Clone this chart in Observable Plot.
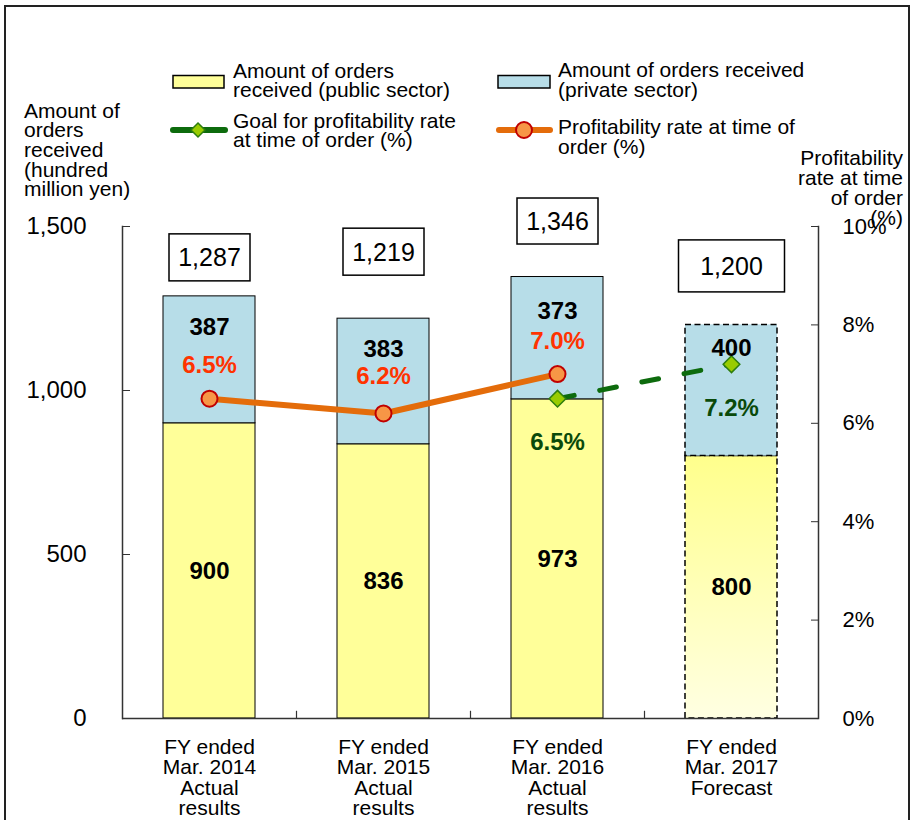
<!DOCTYPE html>
<html>
<head>
<meta charset="utf-8">
<script src="https://cdn.jsdelivr.net/npm/d3@7"></script>
<script src="https://cdn.jsdelivr.net/npm/@observablehq/plot@0.6"></script>
<style>
  html, body { margin: 0; padding: 0; background: #fff; }
  body { width: 914px; height: 820px; position: relative; overflow: hidden;
         font-family: "Liberation Sans", Arial, sans-serif; }
  #frame { position: absolute; left: 4px; top: 5px; width: 906px; height: 900px;
           border: 2px solid #222; box-sizing: border-box; }
  #chart { position: absolute; left: 0; top: 0; }
  #overlay { position: absolute; left: 0; top: 0; pointer-events: none; }
  #overlay text { font-family: "Liberation Sans", Arial, sans-serif; font-size: 21px; fill: #000; }
</style>
</head>
<body>
<div id="frame"></div>
<div id="chart"></div>
<svg id="overlay" width="914" height="240">
  <!-- legend -->
  <rect x="173" y="75.5" width="51" height="12.5" fill="#FFFF99" stroke="#000" stroke-width="1.5"/>
  <text x="233" y="78">Amount of orders</text>
  <text x="233" y="97">received (public sector)</text>
  <rect x="498" y="75.5" width="52" height="12.5" fill="#B7DDE8" stroke="#000" stroke-width="1.5"/>
  <text x="558" y="77">Amount of orders received</text>
  <text x="558" y="97">(private sector)</text>
  <line x1="173" x2="225" y1="130" y2="130" stroke="#0D6B0D" stroke-width="6" stroke-linecap="round"/>
  <path d="M198,123 L205,130 L198,137 L191,130Z" fill="#99CC00" stroke="#2E7D0E" stroke-width="1.5"/>
  <text x="233" y="128">Goal for profitability rate</text>
  <text x="233" y="147">at time of order (%)</text>
  <line x1="499" x2="550" y1="130" y2="130" stroke="#E46C0A" stroke-width="6" stroke-linecap="round"/>
  <circle cx="524" cy="130" r="8" fill="#F79646" stroke="#C00000" stroke-width="2"/>
  <text x="558" y="134">Profitability rate at time of</text>
  <text x="558" y="154">order (%)</text>
  <!-- left axis title -->
  <text x="24" y="118">Amount of</text>
  <text x="24" y="137">orders</text>
  <text x="24" y="157">received</text>
  <text x="24" y="177">(hundred</text>
  <text x="24" y="196">million yen)</text>
  <!-- right axis title -->
  <text x="903" y="165" text-anchor="end">Profitability</text>
  <text x="903" y="185" text-anchor="end">rate at time</text>
  <text x="903" y="205" text-anchor="end">of order</text>
  <text x="903" y="225" text-anchor="end">(%)</text>
</svg>
<script>
// Fiscal-year categories (tick labels, one line per row)
const categories = [
  "FY ended\nMar. 2014\nActual\nresults",
  "FY ended\nMar. 2015\nActual\nresults",
  "FY ended\nMar. 2016\nActual\nresults",
  "FY ended\nMar. 2017\nForecast"
];
// Orders received, hundred million yen
const publicSector  = [900, 836, 973, 800];
const privateSector = [387, 383, 373, 400];
const totals        = [1287, 1219, 1346, 1200];
// Profitability rate at time of order (%)
const profitRate = [6.5, 6.2, 7.0, null];
const goalRate   = [null, null, 6.5, 7.2];
const isForecast = [false, false, false, true];
// Axis ticks
const amountTicks = [0, 500, 1000, 1500];
const rateTicks   = [0, 2, 4, 6, 8, 10];

const AMOUNT_MAX = 1500, RATE_MAX = 10;
const k = AMOUNT_MAX / RATE_MAX; // rate (%) -> amount units for the right axis

// Layout
const W = 914, H = 820;
const mL = 122, mR = 96, mT = 226, mB = 102;
const step = (W - mL - mR) / categories.length;

// Label offsets (px) for the stacked-bar annotations
const totalLift   = [38, 66, 55, 58];
const totalBox    = [[81, 47], [81, 47], [81, 46], [106, 52]];
const privateDrop = [31, 31, 34, 23];
const rateLift    = [33, 37, 33, 33];

const fmt = d3.format(",");

const rows = categories.map((cat, i) => ({
  cat, i,
  pub: publicSector[i],
  priv: privateSector[i],
  total: totals[i],
  rate: profitRate[i],
  goal: goalRate[i],
  forecast: isForecast[i]
}));
const actual = rows.filter(d => !d.forecast);
const forecast = rows.filter(d => d.forecast);
const rated = rows.filter(d => d.rate != null);
const goals = rows.filter(d => d.goal != null);

const YELLOW = "#FFFF99", BLUE = "#B7DDE8";
const ORANGE = "#E46C0A", GREEN = "#0D6B0D";

const gradientDefs = () => {
  const defs = d3.create("svg:defs");
  const g = defs.append("linearGradient").attr("id", "fcYellow")
    .attr("x1", 0).attr("y1", 0).attr("x2", 0).attr("y2", 1);
  g.append("stop").attr("offset", "0%").attr("stop-color", "#FFFF8C");
  g.append("stop").attr("offset", "100%").attr("stop-color", "#FFFFE2");
  return defs.node();
};

const chart = Plot.plot({
  width: W, height: H,
  marginLeft: mL, marginRight: mR, marginTop: mT, marginBottom: mB,
  style: { fontFamily: "Liberation Sans, Arial, sans-serif", background: "transparent", color: "#000" },
  x: { domain: categories, paddingInner: 0.47, paddingOuter: 0.235, axis: null, label: null },
  y: { domain: [0, AMOUNT_MAX], axis: null, label: null },
  marks: [
    gradientDefs,
    // actual bars
    Plot.barY(actual, { x: "cat", y1: 0, y2: "pub", fill: YELLOW, stroke: "#000", strokeWidth: 1 }),
    Plot.barY(actual, { x: "cat", y1: "pub", y2: d => d.pub + d.priv, fill: BLUE, stroke: "#000", strokeWidth: 1 }),
    // forecast bar
    Plot.barY(forecast, { x: "cat", y1: 0, y2: "pub", fill: "url(#fcYellow)", stroke: "#000", strokeWidth: 1.5, strokeDasharray: "6,3.5" }),
    Plot.barY(forecast, { x: "cat", y1: "pub", y2: d => d.pub + d.priv, fill: BLUE, stroke: "#000", strokeWidth: 1.5, strokeDasharray: "6,3.5" }),
    // axis lines
    Plot.frame({ anchor: "left", stroke: "#333", strokeWidth: 1.5 }),
    Plot.frame({ anchor: "right", stroke: "#333", strokeWidth: 1.5 }),
    Plot.ruleY([0], { stroke: "#333", strokeWidth: 1.5 }),
    // category boundary ticks on the baseline
    Plot.ruleX(categories.slice(1), { x: d => d, dx: -step / 2, y1: 0, y2: 22, stroke: "#333", strokeWidth: 1.2 }),
    // axes
    Plot.axisY(amountTicks, { anchor: "left", tickSize: -8, tickPadding: 44, tickFormat: fmt, fontSize: 24, stroke: "#333", label: null }),
    Plot.axisY(rateTicks.map(r => r * k), { anchor: "right", tickSize: -8, tickPadding: 32, tickFormat: d => `${d / k}%`, fontSize: 22, stroke: "#333", label: null }),
    Plot.axisX({ tickSize: 0, tickPadding: 21, fontSize: 21, lineHeight: 0.97, label: null }),
    // profitability rate (actual)
    Plot.line(rated, { x: "cat", y: d => d.rate * k, stroke: ORANGE, strokeWidth: 6 }),
    Plot.dot(rated, { x: "cat", y: d => d.rate * k, r: 8, fill: "#F79646", stroke: "#C00000", strokeWidth: 2 }),
    // profitability goal
    Plot.line(goals, { x: "cat", y: d => d.goal * k, stroke: GREEN, strokeWidth: 5, strokeDasharray: "17,26", strokeLinecap: "round" }),
    Plot.dot(goals, { x: "cat", y: d => d.goal * k, r: 7.5, symbol: "diamond2", fill: "#99CC00", stroke: "#2E7D0E", strokeWidth: 1.5 }),
    // public-sector values
    Plot.text(rows, { x: "cat", y: d => d.pub / 2, text: d => fmt(d.pub), fontSize: 24, fontWeight: "bold", fill: "#000" }),
    // private-sector values, rate labels, goal labels, totals
    rows.map((d, i) => Plot.text([d], { x: "cat", y: d => d.pub + d.priv, dy: privateDrop[i], text: d => fmt(d.priv), fontSize: 24, fontWeight: "bold", fill: "#000" })),
    rated.map(d => Plot.text([d], { x: "cat", y: d => d.rate * k, dy: -rateLift[d.i], text: d => `${d.rate.toFixed(1)}%`, fontSize: 24, fontWeight: "bold", fill: "#FF3300" })),
    Plot.text(goals, { x: "cat", y: d => d.goal * k, dy: 44, text: d => `${d.goal.toFixed(1)}%`, fontSize: 24, fontWeight: "bold", fill: "#0A4A0A" }),
    rows.map((d, i) => Plot.text([d], { x: "cat", y: "total", dy: -totalLift[i], text: d => fmt(d.total), fontSize: 25, fill: "#000", ariaDescription: "total-label" }))
  ]
});

document.getElementById("chart").append(chart);

// Boxed outlines behind the total labels
const totalTexts = [];
chart.querySelectorAll('[aria-description="total-label"]').forEach(node => {
  if (node.tagName.toLowerCase() === "text") totalTexts.push(node);
  else node.querySelectorAll("text").forEach(t => totalTexts.push(t));
});
totalTexts.forEach(t => {
  const idx = totals.findIndex(v => fmt(v) === t.textContent);
  const [bw, bh] = totalBox[idx >= 0 ? idx : 0];
  const b = t.getBBox();
  const cx = b.x + b.width / 2, cy = b.y + b.height / 2;
  const rect = document.createElementNS("http://www.w3.org/2000/svg", "rect");
  rect.setAttribute("x", cx - bw / 2);
  rect.setAttribute("y", cy - bh / 2);
  rect.setAttribute("width", bw);
  rect.setAttribute("height", bh);
  rect.setAttribute("fill", "#fff");
  rect.setAttribute("stroke", "#000");
  rect.setAttribute("stroke-width", 1.5);
  if (t.getAttribute("transform")) rect.setAttribute("transform", t.getAttribute("transform"));
  t.parentNode.insertBefore(rect, t);
});
</script>
</body>
</html>
